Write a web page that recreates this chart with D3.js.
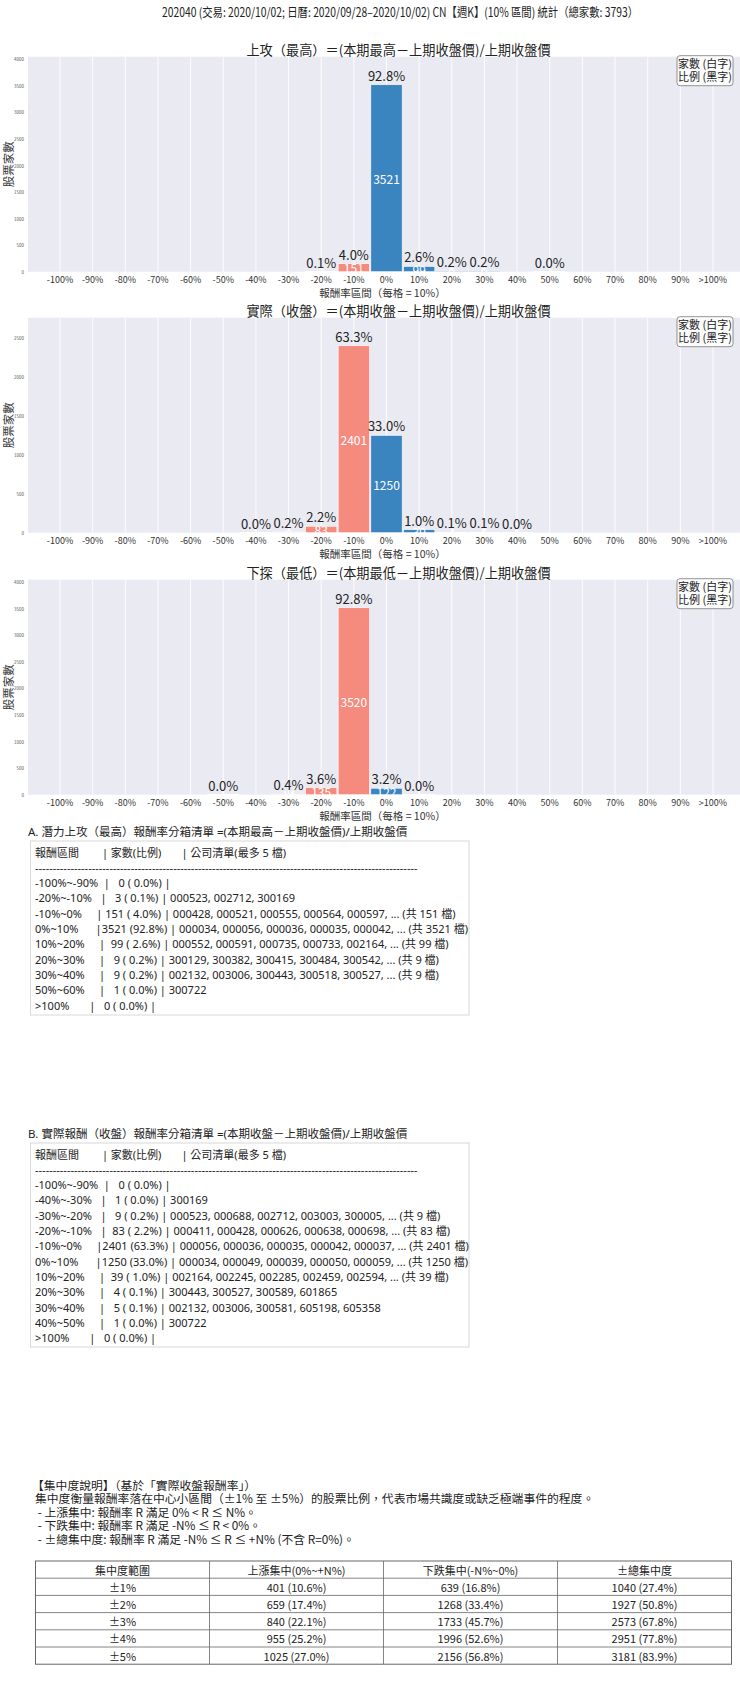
<!DOCTYPE html>
<html>
<head>
<meta charset="utf-8">
<script src="https://cdn.jsdelivr.net/npm/d3@7"></script>
<style>
body { margin: 0; background: #fff; }
text { font-family: "Noto Sans CJK TC", "Noto Sans", sans-serif; }
text.mono { font-family: "Noto Sans", "Noto Sans CJK TC", sans-serif; }
</style>
</head>
<body>
<div id="chart"></div>
<script>
const total = 3793;
const suptitle = "202040 (交易: 2020/10/02; 日曆: 2020/09/28–2020/10/02) CN【週K】(10% 區間) 統計（總家數: 3793）";
const binLabels = ["-100%", "-90%", "-80%", "-70%", "-60%", "-50%", "-40%", "-30%", "-20%", "-10%",
                   "0%", "10%", "20%", "30%", "40%", "50%", "60%", "70%", "80%", "90%", ">100%"];
const binSign = [-1, -1, -1, -1, -1, -1, -1, -1, -1, -1, 1, 1, 1, 1, 1, 1, 1, 1, 1, 1, 1];
const highCounts  = [0, 0, 0, 0, 0, 0, 0, 0, 3, 151, 3521, 99, 9, 9, 0, 1, 0, 0, 0, 0, 0];
const closeCounts = [0, 0, 0, 0, 0, 0, 1, 9, 83, 2401, 1250, 39, 4, 5, 1, 0, 0, 0, 0, 0, 0];
const lowCounts   = [0, 0, 0, 0, 0, 1, 0, 14, 135, 3520, 122, 1, 0, 0, 0, 0, 0, 0, 0, 0, 0];
const chartTitles = [
  "上攻（最高）＝(本期最高－上期收盤價)/上期收盤價",
  "實際（收盤）＝(本期收盤－上期收盤價)/上期收盤價",
  "下探（最低）＝(本期最低－上期收盤價)/上期收盤價"
];
const xLabel = "報酬率區間（每格 = 10%）";
const yLabel = "股票家數";
const legendLines = ["家數 (白字)", "比例 (黑字)"];

// A list (high)
const aTitle = "A. 潛力上攻（最高）報酬率分箱清單 =(本期最高－上期收盤價)/上期收盤價";
const aBins = ["-100%~-90%", "-20%~-10%", "-10%~0%", "0%~10%", "10%~20%", "20%~30%", "30%~40%", "50%~60%", ">100%"];
const aCounts = [0, 3, 151, 3521, 99, 9, 9, 1, 0];
const aCodes = [
  [],
  ["000523", "002712", "300169"],
  ["000428", "000521", "000555", "000564", "000597"],
  ["000034", "000056", "000036", "000035", "000042"],
  ["000552", "000591", "000735", "000733", "002164"],
  ["300129", "300382", "300415", "300484", "300542"],
  ["002132", "003006", "300443", "300518", "300527"],
  ["300722"],
  []
];

// B list (close)
const bTitle = "B. 實際報酬（收盤）報酬率分箱清單 =(本期收盤－上期收盤價)/上期收盤價";
const bBins = ["-100%~-90%", "-40%~-30%", "-30%~-20%", "-20%~-10%", "-10%~0%", "0%~10%", "10%~20%", "20%~30%", "30%~40%", "40%~50%", ">100%"];
const bCounts = [0, 1, 9, 83, 2401, 1250, 39, 4, 5, 1, 0];
const bCodes = [
  [],
  ["300169"],
  ["000523", "000688", "002712", "003003", "300005"],
  ["000411", "000428", "000626", "000638", "000698"],
  ["000056", "000036", "000035", "000042", "000037"],
  ["000034", "000049", "000039", "000050", "000059"],
  ["002164", "002245", "002285", "002459", "002594"],
  ["300443", "300527", "300589", "601865"],
  ["002132", "003006", "300581", "605198", "605358"],
  ["300722"],
  []
];

const noteLines = [
  "【集中度說明】（基於「實際收盤報酬率」）",
  "集中度衡量報酬率落在中心小區間（±1% 至 ±5%）的股票比例，代表市場共識度或缺乏極端事件的程度。",
  " - 上漲集中: 報酬率 R 滿足 0% < R ≤ N%。",
  " - 下跌集中: 報酬率 R 滿足 -N% ≤ R < 0%。",
  " - ±總集中度: 報酬率 R 滿足 -N% ≤ R ≤ +N% (不含 R=0%)。"
];
const tableHeader = ["集中度範圍", "上漲集中(0%~+N%)", "下跌集中(-N%~0%)", "±總集中度"];
const concRanges = ["±1%", "±2%", "±3%", "±4%", "±5%"];
const upConc = [401, 659, 840, 955, 1025];
const downConc = [639, 1268, 1733, 1996, 2156];
const allConc = [1040, 1927, 2573, 2951, 3181];

const W = 740, H = 1690;
const NEG = "#f48b7e", POS = "#3a84bf";
const pct = c => (c / total * 100).toFixed(1);

const svg = d3.select("#chart").append("svg")
  .attr("width", W).attr("height", H)
  .attr("viewBox", `0 0 ${W} ${H}`);

svg.append("text")
  .attr("x", 400).attr("y", 11)
  .attr("text-anchor", "middle").attr("dominant-baseline", "central")
  .attr("font-size", 12.5).attr("fill", "#222")
  .attr("textLength", 476).attr("lengthAdjust", "spacingAndGlyphs")
  .text(suptitle);

const plotLeft = 28, plotRight = 745, plotH = 215;
const x = d3.scaleBand().domain(binLabels).range([plotLeft, plotRight])
  .paddingOuter(0.5).paddingInner(0.04);

function drawChart(counts, title, top) {
  const g = svg.append("g");
  const bottom = top + plotH;
  const ymax = d3.max(counts) * 1.15;
  const y = d3.scaleLinear().domain([0, ymax]).range([bottom, top]);

  g.append("rect").attr("x", plotLeft).attr("y", top)
    .attr("width", plotRight - plotLeft).attr("height", plotH)
    .attr("fill", "#eaeaf2");

  g.selectAll("line.grid").data(binLabels).enter().append("line")
    .attr("class", "grid")
    .attr("x1", d => x(d) + x.bandwidth() / 2).attr("x2", d => x(d) + x.bandwidth() / 2)
    .attr("y1", top).attr("y2", bottom)
    .attr("stroke", "#fff").attr("stroke-width", 0.9);

  const data = binLabels.map((b, i) => ({ b, c: counts[i], s: binSign[i] }));

  g.selectAll("rect.bar").data(data).enter().append("rect")
    .attr("class", "bar")
    .attr("x", d => x(d.b)).attr("width", x.bandwidth())
    .attr("y", d => y(d.c)).attr("height", d => bottom - y(d.c))
    .attr("fill", d => d.s < 0 ? NEG : POS)
    .attr("stroke", "#fff").attr("stroke-width", 0.6);

  const nz = data.filter(d => d.c > 0);
  g.selectAll("text.cnt").data(nz).enter().append("text")
    .attr("class", "cnt")
    .attr("x", d => x(d.b) + x.bandwidth() / 2)
    .attr("y", d => (y(d.c) + bottom) / 2)
    .attr("text-anchor", "middle").attr("dominant-baseline", "central")
    .attr("font-size", 12).attr("fill", "#fff")
    .text(d => d.c);

  g.selectAll("text.pct").data(nz).enter().append("text")
    .attr("class", "pct")
    .attr("x", d => x(d.b) + x.bandwidth() / 2)
    .attr("y", d => y(d.c) - 4)
    .attr("text-anchor", "middle")
    .attr("font-size", 13).attr("fill", "#222")
    .text(d => pct(d.c) + "%");

  // y axis ticks (tiny)
  g.selectAll("text.yt").data(y.ticks(8).filter(v => v % 500 === 0)).enter().append("text")
    .attr("class", "yt")
    .attr("x", 24).attr("y", d => y(d))
    .attr("text-anchor", "end").attr("dominant-baseline", "central")
    .attr("font-size", 4.5).attr("fill", "#555")
    .text(d => d);

  g.append("text")
    .attr("transform", `translate(8,${top + plotH / 2}) rotate(-90)`)
    .attr("text-anchor", "middle").attr("dominant-baseline", "central")
    .attr("font-size", 11.5).attr("fill", "#333")
    .text(yLabel);

  g.selectAll("text.xt").data(binLabels).enter().append("text")
    .attr("class", "xt")
    .attr("x", d => x(d) + x.bandwidth() / 2).attr("y", bottom + 8)
    .attr("text-anchor", "middle").attr("dominant-baseline", "central")
    .attr("font-size", 9).attr("fill", "#333")
    .text(d => d);

  g.append("text")
    .attr("x", (plotLeft + plotRight) / 2 - 4).attr("y", bottom + 21)
    .attr("text-anchor", "middle").attr("dominant-baseline", "central")
    .attr("font-size", 10.5).attr("fill", "#333")
    .text(xLabel);

  g.append("text")
    .attr("x", (plotLeft + plotRight) / 2 + 12).attr("y", top - 7.5)
    .attr("text-anchor", "middle").attr("dominant-baseline", "central")
    .attr("font-size", 13.2).attr("fill", "#222")
    .text(title);

  // legend box
  g.append("rect")
    .attr("x", 677).attr("y", top - 1).attr("width", 56).attr("height", 30)
    .attr("rx", 3).attr("fill", "#fff").attr("fill-opacity", 0.85)
    .attr("stroke", "#777").attr("stroke-width", 0.8);
  g.selectAll("text.lg").data(legendLines).enter().append("text")
    .attr("class", "lg")
    .attr("x", 705).attr("y", (d, i) => top + 6.5 + i * 12.3)
    .attr("text-anchor", "middle").attr("dominant-baseline", "central")
    .attr("font-size", 11).attr("fill", "#222")
    .text(d => d);
}

drawChart(highCounts, chartTitles[0], 56.7);
drawChart(closeCounts, chartTitles[1], 317.7);
drawChart(lowCounts, chartTitles[2], 579.7);

// bin list boxes
function listLines(bins, counts, codes) {
  const lines = [];
  lines.push("報酬區間".padEnd(12) + "| " + "家數(比例)".padEnd(13) + "| 公司清單(最多 5 檔)");
  lines.push("-".repeat(108));
  bins.forEach((b, i) => {
    const c = counts[i];
    let s = b.padEnd(12) + "|" + String(c).padStart(4) + " (" + pct(c).padStart(4) + "%) | " + codes[i].join(", ");
    if (c > 5) s += ", ... (共 " + c + " 檔)";
    lines.push(s);
  });
  return lines;
}

function drawList(title, lines, titleY, boxTop, boxBottom) {
  const g = svg.append("g");
  g.append("text").attr("class", "mono").attr("x", 28).attr("y", titleY)
    .attr("dominant-baseline", "central")
    .attr("font-size", 11.5).attr("fill", "#222").text(title);
  g.append("rect").attr("x", 30.5).attr("y", boxTop)
    .attr("width", 438.5).attr("height", boxBottom - boxTop)
    .attr("fill", "#fff").attr("stroke", "#d8d8d8").attr("stroke-width", 1);
  g.selectAll("text.ln").data(lines).enter().append("text")
    .attr("class", "ln mono")
    .attr("x", 35).attr("y", (d, i) => boxTop + 11 + i * 15.3)
    .attr("dominant-baseline", "central")
    .style("white-space", "pre")
    .attr("font-size", 11).attr("fill", "#222")
    .text(d => d);
}

drawList(aTitle, listLines(aBins, aCounts, aCodes), 831.5, 841, 1015);
drawList(bTitle, listLines(bBins, bCounts, bCodes), 1133, 1143, 1347);

// concentration note
svg.selectAll("text.note").data(noteLines).enter().append("text")
  .attr("class", "note")
  .attr("x", (d, i) => i === 0 ? 32 : 35)
  .attr("y", (d, i) => 1484 + i * 13.5)
  .attr("dominant-baseline", "central")
  .style("white-space", "pre")
  .attr("font-size", 11.8).attr("fill", "#222")
  .text(d => d);

// concentration table
const tLeft = 35.5, tRight = 731.5, tTop = 1561, rowH = 17.2;
const colW = (tRight - tLeft) / 4;
const rows = [tableHeader].concat(concRanges.map((r, i) => [
  r,
  `${upConc[i]} (${pct(upConc[i])}%)`,
  `${downConc[i]} (${pct(downConc[i])}%)`,
  `${allConc[i]} (${pct(allConc[i])}%)`
]));
const tg = svg.append("g");
tg.append("rect").attr("x", tLeft).attr("y", tTop)
  .attr("width", tRight - tLeft).attr("height", rowH * rows.length)
  .attr("fill", "#fff").attr("stroke", "#666").attr("stroke-width", 1);
d3.range(1, rows.length).forEach(i => {
  tg.append("line").attr("x1", tLeft).attr("x2", tRight)
    .attr("y1", tTop + i * rowH).attr("y2", tTop + i * rowH)
    .attr("stroke", "#666").attr("stroke-width", 0.8);
});
d3.range(1, 4).forEach(j => {
  tg.append("line").attr("x1", tLeft + j * colW).attr("x2", tLeft + j * colW)
    .attr("y1", tTop).attr("y2", tTop + rowH * rows.length)
    .attr("stroke", "#666").attr("stroke-width", 0.8);
});
rows.forEach((r, i) => {
  tg.selectAll(null).data(r).enter().append("text")
    .attr("x", (d, j) => tLeft + (j + 0.5) * colW)
    .attr("y", tTop + (i + 0.5) * rowH)
    .attr("text-anchor", "middle").attr("dominant-baseline", "central")
    .attr("font-size", 11).attr("fill", "#222")
    .text(d => d);
});
</script>
</body>
</html>
